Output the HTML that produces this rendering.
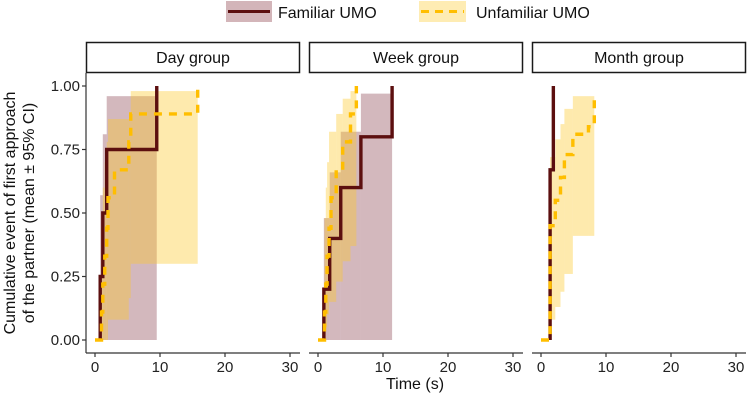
<!DOCTYPE html>
<html><head><meta charset="utf-8"><style>
html,body{margin:0;padding:0;background:#fff;}
svg{display:block;font-family:"Liberation Sans",Arial,sans-serif;}
</style></head><body>
<svg id="chart" width="749" height="402" viewBox="0 0 749 402">
 <g>
  <g>
   <rect x="226" y="1" width="46" height="21" fill="#d3b5b9"/>
   <line x1="228" y1="11.5" x2="270" y2="11.5" stroke="#5c0f0f" stroke-width="3"/>
   <text x="278" y="18" font-size="16" fill="#111">Familiar UMO</text>
  </g>
  <g>
   <rect x="419" y="1" width="47" height="21" fill="#feecb3"/>
   <line x1="421" y1="11.5" x2="464" y2="11.5" stroke="#ffbe00" stroke-width="3" stroke-dasharray="8,6"/>
   <text x="476" y="18" font-size="16" fill="#111">Unfamiliar UMO</text>
  </g>
 </g>
 <g>
  <text transform="translate(15,213) rotate(-90)" text-anchor="middle" font-size="16" fill="#111">Cumulative event of first approach</text>
  <text transform="translate(34,213) rotate(-90)" text-anchor="middle" font-size="16" fill="#111">of the partner (mean ± 95% CI)</text>
 </g>
 <text x="415" y="389" text-anchor="middle" font-size="16" fill="#111">Time (s)</text>
 <g id="panels"></g>
</svg>
<script>
const panelNames = ["Day group","Week group","Month group"];
const xTicks = [0,10,20,30];
const yTicks = [0,0.25,0.5,0.75,1.0];
const yTickLabels = ["0.00","0.25","0.50","0.75","1.00"];
const dayFamT = [0.8,1.2,1.8,9.5];
const dayFamV = [0.25,0.5,0.75,1.0];
const dayFamLo = [0,0,0,0];
const dayFamHi = [0.57,0.81,0.96,0.96];
const dayUnfT = [1.0,1.2,1.5,1.8,2.0,3.0,5.2,5.5,15.8];
const dayUnfV = [0.11,0.22,0.33,0.44,0.56,0.67,0.78,0.89,1.0];
const dayUnfLo = [0,0,0,0,0.08,0.08,0.165,0.30,0.30];
const dayUnfHi = [0.45,0.6,0.7,0.78,0.87,0.87,0.87,0.98,0.98];
const weekFamT = [0.9,1.8,3.5,6.6,11.4];
const weekFamV = [0.2,0.4,0.6,0.8,1.0];
const weekFamLo = [0,0,0,0,0];
const weekFamHi = [0.48,0.66,0.82,0.97,0.97];
const weekUnfT = [1.0,1.2,1.4,1.7,2.0,2.8,3.8,5.0,5.9];
const weekUnfV = [0.11,0.22,0.33,0.44,0.56,0.67,0.78,0.89,1.0];
const weekUnfLo = [0,0.05,0.1,0.15,0.15,0.23,0.31,0.37,0.37];
const weekUnfHi = [0.48,0.6,0.7,0.82,0.82,0.89,0.95,0.98,1.0];
const monthFamT = [1.4,1.9];
const monthFamV = [0.67,1.0];
const monthUnfT = [1.4,2.2,3.0,3.6,4.9,7.3,8.2];
const monthUnfV = [0.45,0.55,0.64,0.73,0.81,0.84,0.97];
const monthUnfLo = [0.08,0.13,0.19,0.26,0.41,0.41,0.41];
const monthUnfHi = [0.72,0.79,0.85,0.91,0.96,0.96,0.96];

const panels = [
 {fam:[dayFamT,dayFamV,dayFamLo,dayFamHi], unf:[dayUnfT,dayUnfV,dayUnfLo,dayUnfHi]},
 {fam:[weekFamT,weekFamV,weekFamLo,weekFamHi], unf:[weekUnfT,weekUnfV,weekUnfLo,weekUnfHi]},
 {fam:[monthFamT,monthFamV,monthFamV,monthFamV], unf:[monthUnfT,monthUnfV,monthUnfLo,monthUnfHi]}
];
const NS="http://www.w3.org/2000/svg";
const root=document.getElementById('panels');
const panelX=[86,309,532];
const pw=214, yTop=73, yBot=353;
function mk(tag,attrs,parent){const e=document.createElementNS(NS,tag);for(const k in attrs)e.setAttribute(k,attrs[k]);parent.appendChild(e);return e;}
function yS(v){return 340-254*v;}
panels.forEach((p,i)=>{
 const x0=panelX[i];
 const xS=t=>x0+9+6.5*t;
 const g=mk('g',{},root);
 
 
 const strip=mk('g',{},g);
 
 
 mk('rect',{x:x0+0.5,y:42.5,width:pw-1,height:30,fill:'#fff',stroke:'#1a1a1a','stroke-width':1.5},strip);
 const st=mk('text',{x:x0+pw/2,y:63,'text-anchor':'middle','font-size':16,fill:'#111'},strip);
 st.textContent=panelNames[i];
 [['fam','rgba(120,40,55,0.33)'],['unf','rgba(253,200,40,0.38)']].forEach(([key,col])=>{
  const [T,V,Lo,Hi]=p[key];
  for(let k=0;k<T.length-1;k++){
   const lo=Lo[k],hi=Hi[k];
   if(hi-lo<=0) continue;
   const r=mk('rect',{x:xS(T[k]),y:yS(hi),width:xS(T[k+1])-xS(T[k]),height:yS(lo)-yS(hi),fill:col},g);
   
   
  }
 });
 [['fam','#5c0f0f',''],['unf','#ffbe00','8,7']].forEach(([key,col,dash])=>{
  const [T,V]=p[key];
  let d='M'+(key==='unf'?xS(0):xS(T[0]))+','+yS(0);
  let prev=0;
  for(let k=0;k<T.length;k++){d+=' L'+xS(T[k])+','+yS(prev)+' L'+xS(T[k])+','+yS(V[k]);prev=V[k];}
  const path=mk('path',{d:d,fill:'none',stroke:col,'stroke-width':3.4,'stroke-dasharray':dash||'none'},g);
  
  
 });
 const xa=mk('g',{},g);
 
 
 mk('line',{x1:x0,y1:yBot,x2:x0+pw,y2:yBot,stroke:'#333','stroke-width':1.2},xa);
 xTicks.forEach(t=>{
  mk('line',{x1:xS(t),y1:yBot,x2:xS(t),y2:yBot+4,stroke:'#333','stroke-width':1.2},xa);
  const tx=mk('text',{x:xS(t),y:yBot+19,'text-anchor':'middle','font-size':15,fill:'#222'},xa);
  tx.textContent=t;
 });
 if(i===0){
  const ya=mk('g',{},g);
  
  
  mk('line',{x1:x0,y1:yTop,x2:x0,y2:yBot,stroke:'#333','stroke-width':1.2},ya);
  yTicks.forEach((v,k)=>{
   mk('line',{x1:x0-4,y1:yS(v),x2:x0,y2:yS(v),stroke:'#333','stroke-width':1.2},ya);
   const tx=mk('text',{x:x0-6,y:yS(v)+5,'text-anchor':'end','font-size':15,fill:'#222'},ya);
   tx.textContent=yTickLabels[k];
  });
 }
});
</script>
</body></html>
